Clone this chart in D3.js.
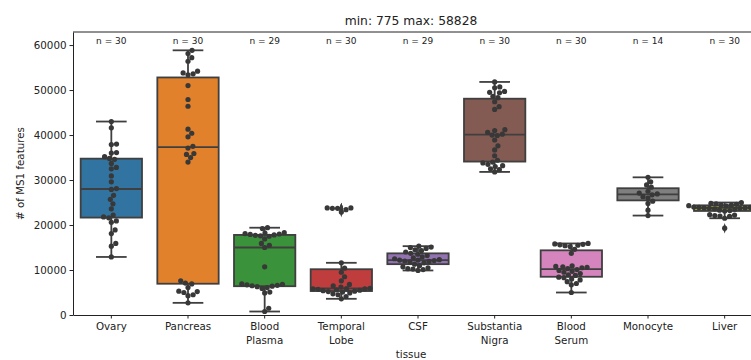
<!DOCTYPE html>
<html>
<head>
<meta charset="utf-8">
<script src="https://cdn.jsdelivr.net/npm/d3@7"></script>
<style>
  body { margin: 0; background: #fff; }
  text { font-family: "DejaVu Sans", sans-serif; }
</style>
</head>
<body>
<svg id="chart" width="751" height="360"></svg>
<script>
// tissue names (\n = line break in tick label)
var tissues = ["Ovary", "Pancreas", "Blood\nPlasma", "Temporal\nLobe", "CSF",
               "Substantia\nNigra", "Blood\nSerum", "Monocyte", "Liver"];

// # of MS1 features per sample
var ovary = [12900, 15300, 15900, 18100, 18900, 20600, 20900, 21600, 21800, 22200,
             23600, 24700, 25700, 26600, 27900, 28100, 29600, 30900, 32500, 32800,
             33700, 34600, 34800, 35200, 36000, 36100, 37900, 38000, 41600, 43000];
var pancreas = [2700, 4300, 4500, 5000, 5200, 5300, 6100, 6900, 7100, 7600,
                34000, 35000, 35700, 35900, 37100, 37500, 39600, 40400, 41300, 46400,
                47900, 51000, 53400, 53600, 53800, 54200, 56400, 57200, 58100, 58828];
var bloodPlasma = [775, 1500, 4900, 5100, 5900, 6100, 6300, 6400, 6500, 6600,
                   6700, 6800, 6900, 10700, 15000, 15500, 15900, 16900, 17500, 17600,
                   17700, 17800, 17900, 18000, 18100, 18200, 18300, 19200, 19400];
var temporalLobe = [3600, 4100, 4500, 4700, 4900, 5100, 5200, 5300, 5400, 5500,
                    5600, 5700, 5800, 5800, 5850, 5950, 6200, 6500, 6800, 7600,
                    8500, 9500, 10400, 11600, 22900, 23400, 23700, 23700, 23800, 23800];
var csf = [9900, 10100, 10200, 10300, 10500, 10700, 11000, 11300, 11600, 11800,
           11900, 12000, 12100, 12200, 12200, 12300, 12500, 12700, 12900, 13200,
           13500, 13700, 14000, 14300, 14500, 14800, 15000, 15100, 15300];
var substantiaNigra = [31800, 32300, 32500, 33000, 33200, 33500, 33800, 34000, 34400, 35400,
                       36700, 37600, 38900, 39900, 40000, 40200, 40600, 41000, 41200, 45700,
                       46300, 47400, 48300, 48600, 49400, 49500, 49700, 50500, 50700, 51800];
var bloodSerum = [5000, 6700, 7000, 7400, 7800, 8000, 8300, 8400, 8800, 8900,
                  9200, 9500, 9700, 9900, 10100, 10300, 10500, 10600, 10700, 10800,
                  10900, 13700, 14600, 15200, 15400, 15500, 15600, 15700, 15800, 15900];
var monocyte = [22100, 23300, 24800, 25300, 26000, 26300, 26700, 26900, 27100, 27500,
                28400, 28900, 29600, 30600];
var liver = [19300, 21500, 21900, 22000, 22100, 22200, 22300, 23100, 23200, 23300,
             23500, 23600, 23700, 23700, 23800, 23800, 23900, 23900, 24000, 24100,
             24200, 24300, 24400, 24400, 24500, 24500, 24600, 24700, 24800, 25000];

var values = [ovary, pancreas, bloodPlasma, temporalLobe, csf,
              substantiaNigra, bloodSerum, monocyte, liver];
var colors = ["#3274a1", "#e1812c", "#3a923a", "#c03d3e", "#9372b2",
              "#845b53", "#d684bd", "#7f7f7f", "#a9aa35"];
var yTicks = [0, 10000, 20000, 30000, 40000, 50000, 60000];

var margin = {top: 32, left: 73},
    width = 690,
    height = 283;

var svg = d3.select("#chart");
var chart = svg.append("g")
    .attr("transform", "translate(" + margin.left + "," + margin.top + ")");

var x = d3.scaleBand().domain(tissues).range([0, width]);
var y = d3.scaleLinear().domain([0, 62900]).range([height, 0]);
var boxW = x.bandwidth() * 0.8;
var lineCol = "#3f3f3f";

// box stats, matplotlib style (1.5 IQR whiskers)
function stats(vals) {
    var s = vals.slice().sort(d3.ascending);
    var q1 = d3.quantile(s, 0.25), med = d3.quantile(s, 0.5), q3 = d3.quantile(s, 0.75);
    var iqr = q3 - q1;
    var lo = d3.min(s.filter(function(v) { return v >= q1 - 1.5 * iqr; }));
    var hi = d3.max(s.filter(function(v) { return v <= q3 + 1.5 * iqr; }));
    var out = s.filter(function(v) { return v < lo || v > hi; });
    return {q1: q1, med: med, q3: q3, lo: lo, hi: hi, out: out};
}

// simple beeswarm: place each point at the free offset nearest the centre
function swarm(vals, r) {
    var pts = vals.map(function(v) { return {v: v, y: y(v)}; })
        .sort(function(a, b) { return a.v - b.v; });
    var placed = [];
    pts.forEach(function(p) {
        var cands = [0];
        placed.forEach(function(q) {
            var dy = Math.abs(q.y - p.y);
            if (dy < 2 * r) {
                var dx = Math.sqrt(4 * r * r - dy * dy);
                cands.push(q.dx + dx, q.dx - dx);
            }
        });
        cands.sort(function(a, b) { return Math.abs(a) - Math.abs(b); });
        for (var i = 0; i < cands.length; i++) {
            var c = cands[i];
            var ok = placed.every(function(q) {
                return (q.dx - c) * (q.dx - c) + (q.y - p.y) * (q.y - p.y) >= 4 * r * r - 0.01;
            });
            if (ok) { p.dx = c; break; }
        }
        placed.push(p);
    });
    return placed;
}

// axes
var yAxis = chart.append("g")
    .call(d3.axisLeft(y).tickValues(yTicks).tickSize(3.5).tickSizeOuter(0).tickFormat(d3.format("d")));
var xAxis = chart.append("g")
    .attr("transform", "translate(0," + height + ")")
    .call(d3.axisBottom(x).tickSize(3.5).tickSizeOuter(0).tickFormat(""));

[yAxis, xAxis].forEach(function(a) {
    a.select(".domain").attr("stroke", "#222").attr("stroke-width", 1);
    a.selectAll(".tick line").attr("stroke", "#222");
});
yAxis.selectAll(".tick text").attr("font-size", 10.3).attr("fill", "#222")
    .attr("font-family", "DejaVu Sans");

xAxis.selectAll(".tick").each(function(d) {
    var t = d3.select(this).append("text")
        .attr("fill", "#222").attr("font-size", 10.3)
        .attr("font-family", "DejaVu Sans")
        .attr("text-anchor", "middle");
    d.split("\n").forEach(function(line, i) {
        t.append("tspan").attr("x", 0).attr("y", 15 + i * 13.5).text(line);
    });
});

// top and right spines
chart.append("line").attr("x1", 0).attr("x2", width).attr("y1", 0).attr("y2", 0)
    .attr("stroke", "#222");
chart.append("line").attr("x1", width).attr("x2", width).attr("y1", 0).attr("y2", height)
    .attr("stroke", "#222");

// boxes
tissues.forEach(function(t, i) {
    var st = stats(values[i]);
    var cx = x(t) + x.bandwidth() / 2;
    var g = chart.append("g");

    g.append("line").attr("x1", cx).attr("x2", cx).attr("y1", y(st.q3)).attr("y2", y(st.hi))
        .attr("stroke", lineCol).attr("stroke-width", 1.8);
    g.append("line").attr("x1", cx).attr("x2", cx).attr("y1", y(st.q1)).attr("y2", y(st.lo))
        .attr("stroke", lineCol).attr("stroke-width", 1.8);
    [st.hi, st.lo].forEach(function(v) {
        g.append("line").attr("x1", cx - boxW / 4).attr("x2", cx + boxW / 4)
            .attr("y1", y(v)).attr("y2", y(v))
            .attr("stroke", lineCol).attr("stroke-width", 1.8);
    });
    g.append("rect")
        .attr("x", cx - boxW / 2).attr("width", boxW)
        .attr("y", y(st.q3)).attr("height", y(st.q1) - y(st.q3))
        .attr("fill", colors[i]).attr("stroke", lineCol).attr("stroke-width", 1.8);
    g.append("line").attr("x1", cx - boxW / 2).attr("x2", cx + boxW / 2)
        .attr("y1", y(st.med)).attr("y2", y(st.med))
        .attr("stroke", lineCol).attr("stroke-width", 1.8);

    // fliers
    g.selectAll(".flier").data(st.out).enter().append("path")
        .attr("class", "flier")
        .attr("d", d3.symbol(d3.symbolDiamond, 22))
        .attr("transform", function(v) { return "translate(" + cx + "," + y(v) + ") scale(0.7,1.2)"; })
        .attr("fill", lineCol);

    // swarm points
    g.selectAll(".pt").data(swarm(values[i], 2.6)).enter().append("circle")
        .attr("class", "pt")
        .attr("cx", function(p) { return cx + p.dx; })
        .attr("cy", function(p) { return p.y; })
        .attr("r", 2.6)
        .attr("fill", "#383838");

    // n = count
    chart.append("text")
        .attr("x", cx).attr("y", 12)
        .attr("text-anchor", "middle")
        .attr("font-size", 9).attr("fill", "#222")
        .text("n = " + values[i].length);
});

// titles
var all = d3.merge(values);
svg.append("text")
    .attr("x", 411).attr("y", 25)
    .attr("text-anchor", "middle").attr("font-size", 12.3).attr("fill", "#222")
    .text("min: " + d3.min(all) + " max: " + d3.max(all));
svg.append("text")
    .attr("x", 411).attr("y", 358)
    .attr("text-anchor", "middle").attr("font-size", 10.3).attr("fill", "#222")
    .text("tissue");
svg.append("text")
    .attr("transform", "translate(24," + (margin.top + height / 2) + ") rotate(-90)")
    .attr("text-anchor", "middle").attr("font-size", 10.3).attr("fill", "#222")
    .text("# of MS1 features");
</script>
</body>
</html>
